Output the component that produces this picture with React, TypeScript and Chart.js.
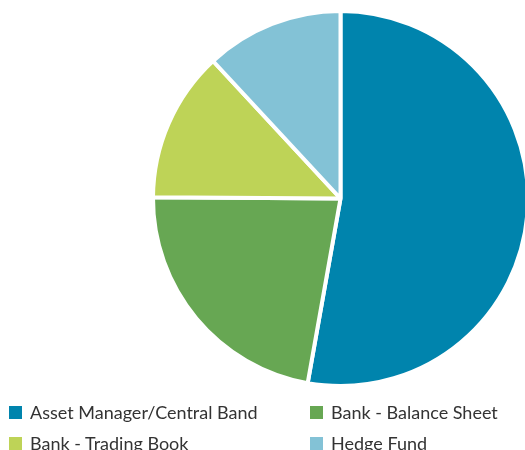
import React, { useEffect, useRef } from "react";
import { Chart, registerables } from "chart.js";

Chart.register(...registerables);

const categories = [
  "Asset Manager/Central Band",
  "Bank - Balance Sheet",
  "Bank - Trading Book",
  "Hedge Fund",
];
const shares = [52.8, 22.3, 13.0, 11.9];
const colors = ["#0084AD", "#67A753", "#BED357", "#83C2D6"];

const FONT = "Lato, 'Open Sans', sans-serif";

export default function App() {
  const ref = useRef<HTMLCanvasElement | null>(null);

  useEffect(() => {
    if (!ref.current) return;
    const chart = new Chart(ref.current, {
      type: "pie",
      data: {
        labels: categories,
        datasets: [
          {
            data: shares,
            backgroundColor: colors,
            borderColor: "#ffffff",
            borderWidth: 4,
            hoverOffset: 0,
          },
        ],
      },
      options: {
        responsive: false,
        animation: false,
        layout: { padding: { left: 151, right: 0, top: 9, bottom: 62 } },
        plugins: {
          legend: { display: false },
          tooltip: { enabled: false },
        },
      },
    });
    return () => chart.destroy();
  }, []);

  return (
    <div
      style={{
        position: "fixed",
        left: 0,
        top: 0,
        width: 525,
        height: 450,
        overflow: "hidden",
        background: "#fff",
      }}
    >
      <canvas ref={ref} width={530} height={450} style={{ display: "block" }} />
      {categories.map((c, i) => {
        const col = i % 2;
        const row = Math.floor(i / 2);
        const x = col === 0 ? 9 : 310;
        const y = 406 + row * 31;
        return (
          <div key={c}>
            <div
              style={{
                position: "absolute",
                left: x,
                top: y,
                width: 13,
                height: 13,
                background: colors[i],
              }}
            />
            <div
              style={{
                position: "absolute",
                left: x + 21,
                top: y - 6,
                fontFamily: FONT,
                fontSize: 18,
                lineHeight: "24px",
                color: "#333333",
                whiteSpace: "nowrap",
              }}
            >
              {c}
            </div>
          </div>
        );
      })}
    </div>
  );
}
